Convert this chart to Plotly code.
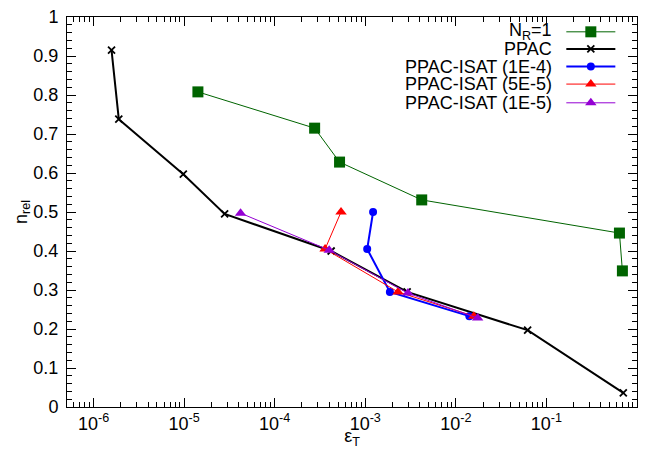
import plotly.graph_objects as go

# ---- data ----
nr1_x = [1.42e-5, 2.76e-4, 5.2e-4, 4.2e-3, 0.64, 0.69]
nr1_y = [0.808, 0.715, 0.628, 0.531, 0.446, 0.349]

ppac_x = [1.58e-6, 1.9e-6, 9.8e-6, 2.8e-5, 4.2e-4, 2.9e-3, 0.062, 0.706]
ppac_y = [0.915, 0.738, 0.597, 0.495, 0.400, 0.295, 0.197, 0.036]

isat4_x = [1.22e-3, 1.05e-3, 1.87e-3, 0.0141]
isat4_y = [0.500, 0.405, 0.295, 0.233]

isat5_x = [5.4e-4, 3.6e-4, 2.3e-3, 0.0158]
isat5_y = [0.500, 0.405, 0.295, 0.233]

isat1_x = [4.2e-5, 4.0e-4, 2.96e-3, 0.0174]
isat1_y = [0.497, 0.402, 0.292, 0.228]

x_tickvals = [1e-6, 1e-5, 1e-4, 1e-3, 1e-2, 1e-1, 1]
x_ticktext = ["10<sup>-6</sup>", "10<sup>-5</sup>", "10<sup>-4</sup>", "10<sup>-3</sup>",
              "10<sup>-2</sup>", "10<sup>-1</sup>", "10<sup>0</sup>"]
y_tickvals = [0, 0.1, 0.2, 0.3, 0.4, 0.5, 0.6, 0.7, 0.8, 0.9, 1]
y_ticktext = ["0", "0.1", "0.2", "0.3", "0.4", "0.5", "0.6", "0.7", "0.8", "0.9", "1"]

names = ["N<sub>R</sub>=1", "PPAC", "PPAC-ISAT (1E-4)", "PPAC-ISAT (5E-5)", "PPAC-ISAT (1E-5)"]

styles = [
    dict(line=dict(color="#006400", width=1), marker=dict(symbol="square", size=11, color="#006400")),
    dict(line=dict(color="black", width=2), marker=dict(symbol="x-thin", size=7, line=dict(color="black", width=1.8))),
    dict(line=dict(color="#0000ff", width=2), marker=dict(symbol="circle", size=8, color="#0000ff")),
    dict(line=dict(color="#ff0000", width=1), marker=dict(symbol="triangle-up", size=10, color="#ff0000")),
    dict(line=dict(color="#9400d3", width=1), marker=dict(symbol="triangle-up", size=10, color="#9400d3")),
]

series = [(nr1_x, nr1_y), (ppac_x, ppac_y), (isat4_x, isat4_y), (isat5_x, isat5_y), (isat1_x, isat1_y)]

fig = go.Figure()
for (xs, ys), st, nm in zip(series, styles, names):
    fig.add_trace(go.Scatter(x=xs, y=ys, mode="lines+markers", name=nm, showlegend=False,
                             line=st["line"], marker=st["marker"]))

# custom legend (samples to the right of the text, gnuplot style)
leg_rows = [0.962, 0.918, 0.873, 0.828, 0.780]
for fy, st, nm in zip(leg_rows, styles, names):
    fig.add_trace(go.Scatter(x=[0.876, 0.962], y=[fy, fy], mode="lines", line=st["line"],
                             xaxis="x2", yaxis="y2", showlegend=False, hoverinfo="skip"))
    fig.add_trace(go.Scatter(x=[0.919], y=[fy], mode="markers", marker=st["marker"],
                             xaxis="x2", yaxis="y2", showlegend=False, hoverinfo="skip"))
    fig.add_annotation(x=0.855, y=fy, xref="paper", yref="paper", text=nm, showarrow=False,
                       xanchor="right", yanchor="middle", font=dict(size=18, color="black"))

minor_x = [k * 10.0 ** e for e in range(-7, 0) for k in range(2, 10)]

fig.update_layout(
    width=648, height=449,
    margin=dict(l=67, r=11, t=17, b=42, autoexpand=False),
    paper_bgcolor="white", plot_bgcolor="white",
    font=dict(family="Liberation Sans, Arial, Helvetica, sans-serif", size=18, color="black"),
    xaxis=dict(type="log", range=[-6.293, 0], tickvals=x_tickvals, ticktext=x_ticktext,
               ticks="inside", ticklen=9, tickwidth=1, tickcolor="black",
               showline=True, linecolor="black", linewidth=1, mirror="ticks",
               showgrid=False, zeroline=False, automargin=False,
               minor=dict(tickvals=minor_x, ticks="inside", ticklen=5, tickcolor="black", showgrid=False),
               title=dict(text="ε<sub>T</sub>", standoff=0, font=dict(size=18)),
               tickfont=dict(size=18), ticklabelstandoff=0),
    yaxis=dict(range=[0, 1], tickvals=y_tickvals, ticktext=y_ticktext,
               ticks="inside", ticklen=9, tickwidth=1, tickcolor="black",
               showline=True, linecolor="black", linewidth=1, mirror="ticks",
               showgrid=False, zeroline=False, automargin=False,
               minor=dict(dtick=0.02, ticks="inside", ticklen=5, tickcolor="black", showgrid=False),
               title=dict(text="n<sub>rel</sub>", standoff=0, font=dict(size=18)),
               tickfont=dict(size=18), ticklabelstandoff=4),
    xaxis2=dict(overlaying="x", range=[0, 1], visible=False, fixedrange=True),
    yaxis2=dict(overlaying="y", range=[0, 1], visible=False, fixedrange=True),
)

fig.write_html("out.html", config={"displayModeBar": False},
               post_script="document.body.style.margin='0';document.body.style.overflow='hidden';")
